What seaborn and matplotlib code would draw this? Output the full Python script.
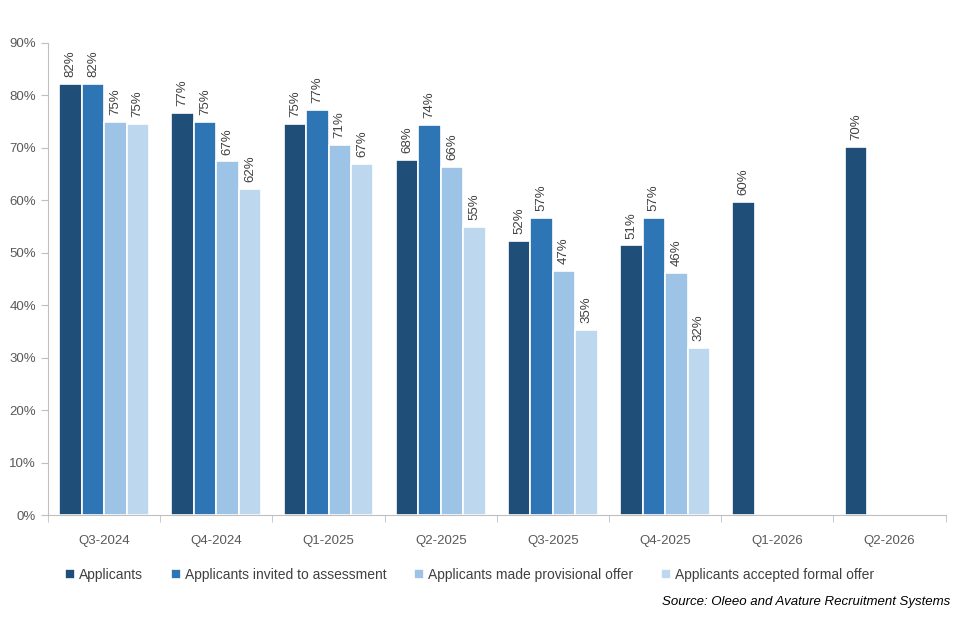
import pandas as pd
import numpy as np
import matplotlib.pyplot as plt
import seaborn as sns
from matplotlib.ticker import PercentFormatter, FixedLocator

quarters = ["Q3-2024", "Q4-2024", "Q1-2025", "Q2-2025", "Q3-2025", "Q4-2025", "Q1-2026", "Q2-2026"]
series = ["Applicants", "Applicants invited to assessment",
          "Applicants made provisional offer", "Applicants accepted formal offer"]

applicants = [82.2, 76.7, 74.6, 67.7, 52.3, 51.4, 59.6, 70.2]
invited = [82.2, 75.0, 77.3, 74.3, 56.7, 56.6, np.nan, np.nan]
provisional = [74.9, 67.4, 70.6, 66.3, 46.6, 46.1, np.nan, np.nan]
accepted = [74.6, 62.1, 66.9, 55.0, 35.3, 31.9, np.nan, np.nan]

colors = ["#1F4E79", "#2E75B6", "#9DC3E6", "#BDD7EE"]

df = pd.DataFrame({
    "Quarter": quarters * 4,
    "Series": [s for s in series for _ in quarters],
    "Value": applicants + invited + provisional + accepted,
})

sns.set_style("white")
plt.rcParams["font.family"] = ["Liberation Sans", "DejaVu Sans"]

fig = plt.figure(figsize=(9.6, 6.4), dpi=100)
ax = fig.add_axes([0.05, 0.195, 0.935, 0.738])

sns.barplot(data=df, x="Quarter", y="Value", hue="Series", order=quarters,
            hue_order=series, palette=colors, width=0.8, dodge=True,
            edgecolor="white", linewidth=1.2, saturation=1, ax=ax)

for cont in ax.containers:
    labels = ["" if np.isnan(v) else f"{v:.0f}%" for v in cont.datavalues]
    ax.bar_label(cont, labels=labels, rotation=90, padding=5, fontsize=9.5, color="#404040")

ax.set_ylim(0, 90)
ax.set_xlim(-0.5, len(quarters) - 0.5)
ax.yaxis.set_major_formatter(PercentFormatter(decimals=0))
ax.set_yticks(range(0, 91, 10))
ax.set_xlabel("")
ax.set_ylabel("")

for side in ["top", "right"]:
    ax.spines[side].set_visible(False)
for side in ["left", "bottom"]:
    ax.spines[side].set_color("#BFBFBF")

ax.tick_params(axis="y", left=True, length=5, color="#BFBFBF", labelsize=9.5, labelcolor="#595959")
ax.tick_params(axis="x", which="major", length=0, pad=14, labelsize=9.5, labelcolor="#595959")
ax.xaxis.set_minor_locator(FixedLocator(np.arange(-0.5, len(quarters), 1)))
ax.tick_params(axis="x", which="minor", bottom=True, length=5, color="#BFBFBF")

handles, labs = ax.get_legend_handles_labels()
ax.legend(handles, labs, loc="upper center", bbox_to_anchor=(0.47, -0.085), ncol=4,
          frameon=False, fontsize=10, handlelength=0.7, handleheight=0.7,
          handletextpad=0.3, columnspacing=2.0, labelcolor="#404040")

fig.text(0.99, 0.055, "Source: Oleeo and Avature Recruitment Systems", ha="right",
         style="italic", fontsize=9.5, color="#000000")

fig.savefig("out.png", dpi=100)
